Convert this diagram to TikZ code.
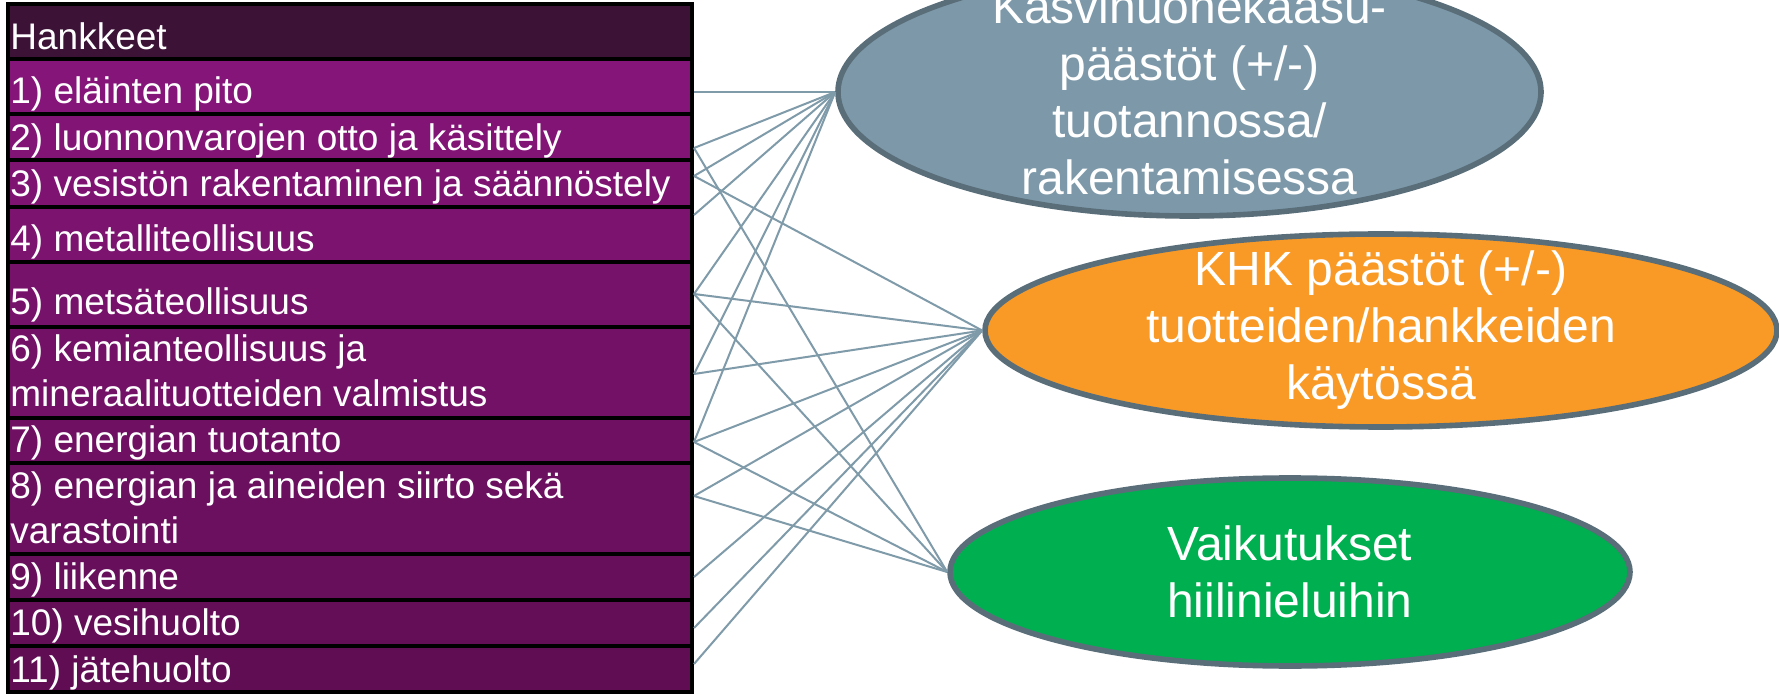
\documentclass[tikz,border=0pt]{standalone}
\usepackage{fontspec}
\setmainfont{Liberation Sans}
\usetikzlibrary{shapes.geometric}

\definecolor{otsikko}{HTML}{3C1237}
\definecolor{ylarivi}{HTML}{86157A}
\definecolor{alarivi}{HTML}{600D54}
\definecolor{viiva}{HTML}{7F9AA9}
\definecolor{reuna}{HTML}{5A6E7A}
\definecolor{harmaa}{HTML}{7D99A9}
\definecolor{oranssi}{HTML}{F99A26}
\definecolor{vihrea}{HTML}{00AF50}

\tikzset{
	rivi/.style={font=\fontsize{18.5}{22.5}\selectfont, text=white, anchor=base west, inner sep=0pt, align=left},
	solu/.style={draw=black, line width=1.6pt},
	vaikutus/.style={ellipse, draw=reuna, line width=2.8pt, inner sep=0pt},
	vteksti/.style={font=\fontsize{24}{28.5}\selectfont, text=white, align=center, inner sep=0pt},
	yhteys/.style={draw=viiva, line width=1pt}
}

\begin{document}
\begin{tikzpicture}[x=0.5pt, y=-0.5pt]
			%%%%% START %%%%%
			\useasboundingbox (0, 0) rectangle (1779, 695);
			
			% taulukko
			\draw[solu, fill=otsikko] (8, 4) rectangle (692, 59);
			\draw[solu, fill=ylarivi] (8, 59) rectangle (692, 114);
			\draw[solu, fill=ylarivi!90!alarivi] (8, 114) rectangle (692, 160);
			\draw[solu, fill=ylarivi!80!alarivi] (8, 160) rectangle (692, 207);
			\draw[solu, fill=ylarivi!70!alarivi] (8, 207) rectangle (692, 262);
			\draw[solu, fill=ylarivi!60!alarivi] (8, 262) rectangle (692, 327);
			\draw[solu, fill=ylarivi!50!alarivi] (8, 327) rectangle (692, 418);
			\draw[solu, fill=ylarivi!40!alarivi] (8, 418) rectangle (692, 463);
			\draw[solu, fill=ylarivi!30!alarivi] (8, 463) rectangle (692, 554);
			\draw[solu, fill=ylarivi!20!alarivi] (8, 554) rectangle (692, 600);
			\draw[solu, fill=ylarivi!10!alarivi] (8, 600) rectangle (692, 646);
			\draw[solu, fill=alarivi] (8, 646) rectangle (692, 692);
			
			% (kaksiriviset: perusviiva = viimeinen rivi)
			\node[rivi] (otsikko) at (10, 50) {Hankkeet};
			\node[rivi] (r1) at (10, 104) {1) eläinten pito};
			\node[rivi] (r2) at (10, 151) {2) luonnonvarojen otto ja käsittely};
			\node[rivi] (r3) at (10, 197) {3) vesistön rakentaminen ja säännöstely};
			\node[rivi] (r4) at (10, 252) {4) metalliteollisuus};
			\node[rivi] (r5) at (10, 315) {5) metsäteollisuus};
			\node[rivi] (r6) at (10, 407) {6) kemianteollisuus ja\\mineraalituotteiden valmistus};
			\node[rivi] (r7) at (10, 452) {7) energian tuotanto};
			\node[rivi] (r8) at (10, 543) {8) energian ja aineiden siirto sekä\\varastointi};
			\node[rivi] (r9) at (10, 589) {9) liikenne};
			\node[rivi] (r10) at (10, 635) {10) vesihuolto};
			\node[rivi] (r11) at (10, 682) {11) jätehuolto};
			
			% liitoskohdat
			\coordinate (h1) at (694, 92);
			\coordinate (h2) at (694, 148);
			\coordinate (h3) at (694, 176);
			\coordinate (h4) at (694, 215);
			\coordinate (h5) at (694, 294);
			\coordinate (h6) at (694, 374);
			\coordinate (h7) at (694, 442);
			\coordinate (h8) at (694, 496);
			\coordinate (h9) at (694, 577);
			\coordinate (h10) at (694, 628);
			\coordinate (h11) at (694, 664);
			
			% vaikutukset
			\node[vaikutus, fill=harmaa, minimum width=351.5pt, minimum height=124pt] (k1) at (1189.5, 92) {};
			\node[vteksti] (t1) at (k1) {Kasvihuonekaasu-\\päästöt (+/-)\\tuotannossa/\\rakentamisessa};
			
			\node[vaikutus, fill=oranssi, minimum width=396pt, minimum height=96.5pt] (k2) at (1381, 330.5) {};
			\node[vteksti] (t2) at (k2) {KHK päästöt (+/-)\\tuotteiden/hankkeiden\\käytössä};
			
			\node[vaikutus, fill=vihrea, minimum width=340pt, minimum height=94pt] (k3) at (1290, 572) {};
			\node[vteksti] (t3) at (k3) {Vaikutukset\\hiilinieluihin};
			
			% yhteydet
			\draw[yhteys] (h1) -- (k1.west);
			\draw[yhteys] (h2) -- (k1.west);
			\draw[yhteys] (h3) -- (k1.west);
			\draw[yhteys] (h4) -- (k1.west);
			\draw[yhteys] (h5) -- (k1.west);
			\draw[yhteys] (h6) -- (k1.west);
			\draw[yhteys] (h7) -- (k1.west);
			
			\draw[yhteys] (h3) -- (k2.west);
			\draw[yhteys] (h5) -- (k2.west);
			\draw[yhteys] (h6) -- (k2.west);
			\draw[yhteys] (h7) -- (k2.west);
			\draw[yhteys] (h8) -- (k2.west);
			\draw[yhteys] (h9) -- (k2.west);
			\draw[yhteys] (h10) -- (k2.west);
			\draw[yhteys] (h11) -- (k2.west);
			
			\draw[yhteys] (h2) -- (k3.west);
			\draw[yhteys] (h5) -- (k3.west);
			\draw[yhteys] (h7) -- (k3.west);
			\draw[yhteys] (h8) -- (k3.west);
			
			%%%%% END %%%%%
\end{tikzpicture}
\end{document}
